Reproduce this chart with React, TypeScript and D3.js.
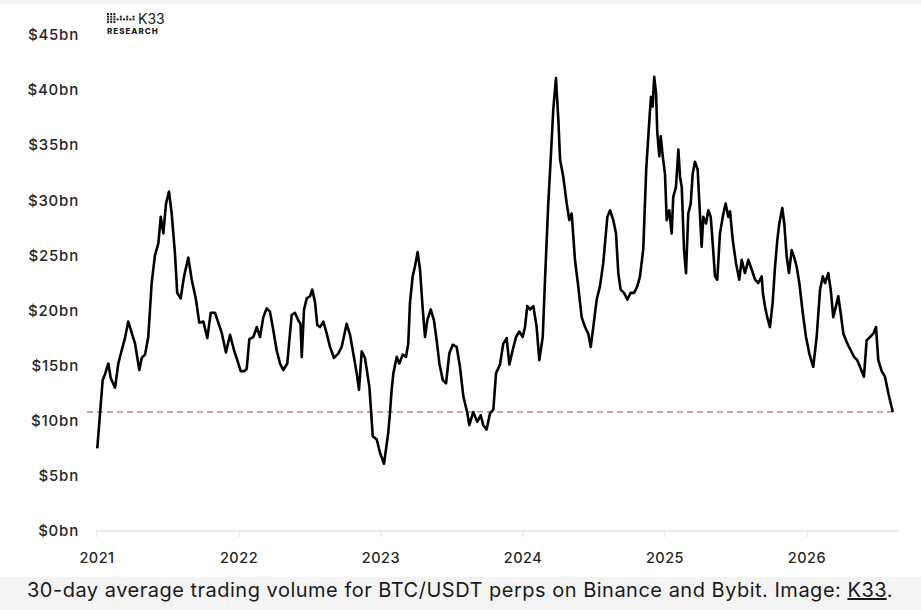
import React from "react";
import * as d3 from "d3";

// decimal year of each reading
const years = [
  2021.002, 2021.04, 2021.056, 2021.08, 2021.096, 2021.127, 2021.15, 2021.174, 2021.197, 2021.22,
  2021.244, 2021.268, 2021.298, 2021.315, 2021.338, 2021.361, 2021.385, 2021.408, 2021.432, 2021.449,
  2021.467, 2021.486, 2021.507, 2021.526, 2021.549, 2021.565, 2021.589, 2021.613, 2021.643, 2021.667,
  2021.697, 2021.72, 2021.749, 2021.777, 2021.801, 2021.831, 2021.854, 2021.878, 2021.908, 2021.937,
  2021.965, 2021.988, 2022.012, 2022.035, 2022.054, 2022.073, 2022.101, 2022.125, 2022.148, 2022.171,
  2022.195, 2022.218, 2022.242, 2022.265, 2022.289, 2022.312, 2022.34, 2022.371, 2022.394, 2022.418,
  2022.433, 2022.442, 2022.458, 2022.477, 2022.5, 2022.516, 2022.535, 2022.551, 2022.57, 2022.594,
  2022.618, 2022.641, 2022.669, 2022.699, 2022.723, 2022.758, 2022.782, 2022.805, 2022.829, 2022.845,
  2022.864, 2022.887, 2022.918, 2022.942, 2022.97, 2022.993, 2023.021, 2023.051, 2023.063, 2023.075,
  2023.087, 2023.111, 2023.129, 2023.153, 2023.176, 2023.192, 2023.204, 2023.223, 2023.239, 2023.258,
  2023.275, 2023.294, 2023.31, 2023.326, 2023.35, 2023.373, 2023.392, 2023.411, 2023.435, 2023.458,
  2023.481, 2023.505, 2023.533, 2023.556, 2023.58, 2023.608, 2023.622, 2023.65, 2023.678, 2023.702,
  2023.72, 2023.744, 2023.768, 2023.791, 2023.81, 2023.838, 2023.861, 2023.885, 2023.904, 2023.927,
  2023.951, 2023.974, 2023.998, 2024.014, 2024.03, 2024.049, 2024.073, 2024.096, 2024.115, 2024.139,
  2024.155, 2024.178, 2024.195, 2024.213, 2024.232, 2024.249, 2024.261, 2024.284, 2024.308, 2024.326,
  2024.343, 2024.366, 2024.389, 2024.413, 2024.437, 2024.46, 2024.477, 2024.495, 2024.519, 2024.542,
  2024.565, 2024.594, 2024.613, 2024.636, 2024.655, 2024.671, 2024.688, 2024.711, 2024.735, 2024.758,
  2024.782, 2024.805, 2024.824, 2024.847, 2024.868, 2024.891, 2024.901, 2024.913, 2024.924, 2024.937,
  2024.946, 2024.96, 2024.97, 2024.984, 2025.0, 2025.012, 2025.03, 2025.047, 2025.058, 2025.077,
  2025.094, 2025.106, 2025.118, 2025.134, 2025.148, 2025.164, 2025.181, 2025.195, 2025.211, 2025.23,
  2025.246, 2025.258, 2025.27, 2025.289, 2025.305, 2025.322, 2025.336, 2025.352, 2025.368, 2025.387,
  2025.411, 2025.427, 2025.446, 2025.458, 2025.477, 2025.5, 2025.523, 2025.54, 2025.563, 2025.587,
  2025.611, 2025.634, 2025.657, 2025.681, 2025.69, 2025.704, 2025.72, 2025.739, 2025.758, 2025.775,
  2025.791, 2025.805, 2025.826, 2025.84, 2025.857, 2025.873, 2025.892, 2025.908, 2025.927, 2025.946,
  2025.97, 2025.993, 2026.016, 2026.044, 2026.068, 2026.092, 2026.111, 2026.127, 2026.15, 2026.167,
  2026.185, 2026.204, 2026.22, 2026.237, 2026.256, 2026.284, 2026.308, 2026.331, 2026.354, 2026.373,
  2026.401, 2026.42, 2026.444, 2026.467, 2026.486, 2026.502, 2026.526, 2026.549, 2026.573, 2026.604,
];

// 30-day average volume, $bn
const volume = [
  7.5, 13.7, 14.2, 15.2, 13.9, 13.0, 15.2, 16.4, 17.5, 19.0,
  18.0, 17.0, 14.6, 15.7, 16.0, 17.6, 22.5, 25.0, 26.1, 28.5,
  27.0, 29.7, 30.8, 28.8, 25.2, 21.6, 21.1, 23.1, 24.8, 22.8,
  21.0, 18.9, 19.0, 17.5, 19.8, 19.8, 18.9, 18.0, 16.2, 17.8,
  16.4, 15.5, 14.5, 14.5, 14.7, 17.4, 17.6, 18.5, 17.6, 19.4,
  20.2, 19.9, 18.2, 16.4, 15.2, 14.6, 15.2, 19.6, 19.8, 19.1,
  18.8, 15.8, 20.1, 21.1, 21.3, 21.9, 20.8, 18.7, 18.5, 19.0,
  17.9, 16.7, 15.7, 16.1, 16.7, 18.8, 17.8, 16.1, 14.3, 12.8,
  16.3, 15.7, 13.1, 8.6, 8.3, 7.1, 6.1, 8.9, 10.7, 12.8,
  14.3, 15.8, 15.2, 16.0, 15.8, 17.0, 20.7, 23.1, 24.0, 25.3,
  23.7, 20.1, 17.6, 19.1, 20.1, 19.1, 17.3, 15.2, 13.7, 13.4,
  16.1, 16.9, 16.7, 14.9, 12.2, 10.7, 9.6, 10.8, 9.9, 10.5,
  9.6, 9.2, 10.7, 11.0, 14.3, 15.1, 17.0, 17.5, 15.1, 16.4,
  17.6, 18.1, 17.6, 18.5, 20.4, 20.1, 20.4, 18.5, 15.5, 17.6,
  22.8, 29.7, 33.7, 38.2, 41.1, 37.3, 33.7, 32.1, 29.7, 28.2,
  28.8, 24.6, 22.2, 19.4, 18.5, 17.9, 16.7, 18.5, 21.0, 22.2,
  24.3, 28.5, 29.1, 28.2, 27.0, 23.4, 21.9, 21.6, 21.0, 21.6,
  21.6, 22.2, 23.1, 25.6, 32.9, 37.5, 39.4, 38.5, 41.2, 39.7,
  36.1, 34.0, 35.8, 34.0, 32.4, 28.2, 29.1, 27.0, 30.3, 31.2,
  34.6, 32.1, 31.2, 25.5, 23.4, 28.8, 29.7, 32.4, 33.5, 32.8,
  28.8, 25.8, 28.5, 27.9, 29.1, 28.5, 26.1, 23.1, 22.8, 27.0,
  28.8, 29.7, 28.5, 29.0, 26.4, 24.3, 22.8, 24.6, 23.4, 24.6,
  23.7, 22.8, 22.5, 23.1, 21.5, 20.4, 19.4, 18.5, 20.7, 24.0,
  26.4, 27.9, 29.3, 27.9, 24.9, 23.4, 25.5, 24.9, 24.0, 22.5,
  19.8, 17.6, 16.1, 14.9, 17.6, 21.9, 23.1, 22.5, 23.4, 21.9,
  19.4, 20.4, 21.3, 19.8, 17.9, 17.0, 16.4, 15.8, 15.5, 14.9,
  14.0, 17.3, 17.6, 17.9, 18.5, 15.5, 14.5, 14.0, 12.5, 10.8,
];

const yTicks = [0, 5, 10, 15, 20, 25, 30, 35, 40, 45];
const xTicks = [2021, 2022, 2023, 2024, 2025, 2026];
const currentLevel = 10.8; // dashed reference line
const caption = "30-day average trading volume for BTC/USDT perps on Binance and Bybit. Image: ";
const logoColumns = [4, 4, 4, 1, 2, 1, 2, 1, 2];

const W = 921;
const H = 610;
const font = "Inter, 'Noto Sans', sans-serif";

export default function App() {
  const x = d3.scaleLinear().domain([2021, 2026]).range([97, 807]);
  const y = d3.scaleLinear().domain([0, 45]).range([531, 35]);

  const line = d3
    .line<number>()
    .x((_, i) => x(years[i]))
    .y((d) => y(d));

  return (
    <>
      <style>{`body{margin:0}`}</style>
      <svg width={W} height={H} style={{ display: "block" }}>
        <rect x={0} y={0} width={W} height={H} fill="#f4f4f4" />
        <rect x={0} y={4} width={W} height={573} fill="#ffffff" />

        {/* logo */}
        <g fill="#222">
          {logoColumns.map((n, c) =>
            d3.range(n).map((r) => (
              <rect
                key={`${c}-${r}`}
                x={107 + c * 3.2}
                y={n === 4 ? 13 + r * 2.7 : n === 2 ? 15.7 + r * 2.7 : 18.4}
                width={2}
                height={2}
              />
            ))
          )}
          <text x={138} y={23.5} fontFamily={font} fontSize={14} fill="#222">
            K33
          </text>
          <text
            x={107}
            y={33.5}
            fontFamily={font}
            fontSize={8}
            fontWeight={800}
            letterSpacing={1}
            fill="#222"
          >
            RESEARCH
          </text>
        </g>

        {/* y labels */}
        {yTicks.map((t) => (
          <text
            key={t}
            x={79}
            y={y(t)}
            dy="0.35em"
            textAnchor="end"
            fontFamily={font}
            fontSize={15}
            fontWeight={500}
            letterSpacing={0.8}
            fill="#262626"
          >
            {`$${t}bn`}
          </text>
        ))}

        {/* x axis */}
        <line x1={96} x2={898} y1={y(0)} y2={y(0)} stroke="#e3e3e3" strokeWidth={1.5} />
        {xTicks.map((t) => (
          <g key={t}>
            <line x1={x(t)} x2={x(t)} y1={y(0)} y2={y(0) + 6} stroke="#e3e3e3" strokeWidth={1.2} />
            <text
              x={x(t)}
              y={558}
              dy="0.35em"
              textAnchor="middle"
              fontFamily={font}
              fontSize={14.5}
              fontWeight={500}
              letterSpacing={0.5}
              fill="#262626"
            >
              {t}
            </text>
          </g>
        ))}

        {/* current level */}
        <line
          x1={87}
          x2={897}
          y1={y(currentLevel)}
          y2={y(currentLevel)}
          stroke="#c46a6a"
          strokeWidth={1.3}
          strokeDasharray="6 4"
        />

        <path
          d={line(volume) ?? ""}
          fill="none"
          stroke="#000"
          strokeWidth={2.6}
          strokeLinejoin="round"
        />

        {/* caption */}
        <text
          x={27}
          y={597}
          fontFamily={font}
          fontSize={20}
          letterSpacing={0.5}
          fill="#1a1a1a"
        >
          {caption}
          <tspan textDecoration="underline">K33</tspan>.
        </text>
      </svg>
    </>
  );
}
